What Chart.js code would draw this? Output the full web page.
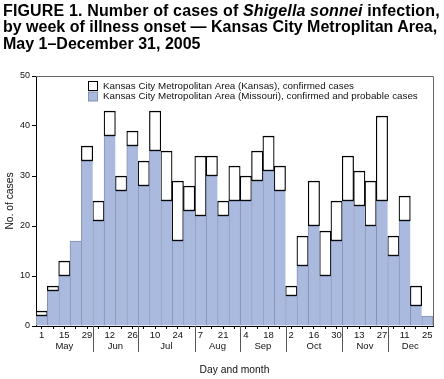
<!DOCTYPE html>
<html><head><meta charset="utf-8">
<script src="https://cdn.jsdelivr.net/npm/chart.js@4.4.0/dist/chart.umd.min.js"></script>
<style>
html,body{margin:0;padding:0;background:#fff;}
#wrap{position:relative;width:444px;height:379px;overflow:hidden;}
#title{position:absolute;left:3px;top:3px;font:bold 16px "Liberation Sans",Arial,Helvetica,sans-serif;line-height:16.4px;color:#000;white-space:nowrap;}
#title .l1{letter-spacing:0.15px;}
canvas{position:absolute;left:0;top:0;}
</style></head><body>
<div id="wrap"><canvas id="c" width="444" height="379"></canvas>
<div id="title"><span class="l1">FIGURE 1. Number of cases of <i>Shigella sonnei</i> infection,</span><br>by week of illness onset — Kansas City Metroplitan Area,<br>May 1–December 31, 2005</div></div>
<script>
// Week start days (May 1 – Dec 25, 2005)
const weekDays = ['1','8','15','22','29','5','12','19','26','3','10','17','24','31','7','14','21','28','4','11','18','25','2','9','16','23','30','6','13','20','27','4','11','18','25'];
const months = ['May','Jun','Jul','Aug','Sep','Oct','Nov','Dec'];
const monthStart = [0,5,9,14,18,22,27,31];
const missouri = [2,7,10,17,33,21,38,27,36,28,35,25,17,23,22,30,22,25,25,29,31,27,6,12,20,10,17,25,24,20,25,14,21,4,2];
const kansas   = [1,1,3,0,3,4,5,3,3,5,8,10,12,5,12,4,3,7,5,6,7,5,2,6,9,9,8,9,7,9,17,4,5,4,0];
const yTicks = [0,10,20,30,40,50];
const labelMissouri = 'Kansas City Metropolitan Area (Missouri), confirmed and probable cases';
const labelKansas = 'Kansas City Metropolitan Area (Kansas), confirmed cases';

const FONT = '"Liberation Sans", Arial, Helvetica, sans-serif';
Chart.defaults.font.family = FONT;
Chart.defaults.color = '#111';

const last = missouri.length - 1;

const extras = {
  id: 'extras',
  afterDraw(chart) {
    const ctx = chart.ctx;
    const a = chart.chartArea;
    const x = chart.scales.x;
    ctx.save();
    // frame top & right
    ctx.strokeStyle = '#666';
    ctx.lineWidth = 1;
    ctx.beginPath();
    ctx.moveTo(a.left, Math.round(a.top) + 0.5);
    ctx.lineTo(Math.round(a.right) + 0.5, Math.round(a.top) + 0.5);
    ctx.lineTo(Math.round(a.right) + 0.5, a.bottom);
    ctx.stroke();
    // months
    const w = x.getPixelForValue(1) - x.getPixelForValue(0);
    ctx.font = '9.5px ' + FONT;
    ctx.fillStyle = '#111';
    ctx.textAlign = 'center';
    ctx.textBaseline = 'middle';
    ctx.strokeStyle = '#555';
    for (let m = 0; m < months.length; m++) {
      const s = monthStart[m];
      const e = (m + 1 < months.length ? monthStart[m + 1] : weekDays.length) - 1;
      const l = x.getPixelForValue(s) - w / 2;
      const r = x.getPixelForValue(e) + w / 2;
      if (m > 0) {
        const px = Math.round(l) + 0.5;
        ctx.beginPath();
        ctx.moveTo(px, a.bottom);
        ctx.lineTo(px, a.bottom + 26);
        ctx.stroke();
      }
      ctx.fillText(months[m], (l + r) / 2, a.bottom + 20.5);
    }
    // legend
    const ds = chart.data.datasets.slice().reverse();
    ctx.font = '9.8px ' + FONT;
    ctx.textAlign = 'left';
    ds.forEach((d, i) => {
      const bx = a.left + 52.5, by = a.top + 5.5 + i * 10.5;
      ctx.fillStyle = d.legendFill;
      ctx.fillRect(bx, by, 9, 9);
      ctx.strokeStyle = d.legendStroke;
      ctx.lineWidth = 1;
      ctx.strokeRect(bx, by, 9, 9);
      ctx.fillStyle = '#111';
      ctx.fillText(d.label, a.left + 67, by + 4.5);
    });
    ctx.restore();
  }
};

new Chart(document.getElementById('c'), {
  type: 'bar',
  data: {
    labels: weekDays,
    datasets: [
      {
        label: labelMissouri,
        data: missouri,
        backgroundColor: '#aab9de',
        borderColor: '#8591b2',
        legendFill: '#aab9de', legendStroke: '#8591b2',
        borderSkipped: false,
        borderWidth: c => ({top: 1, left: 1, right: c.dataIndex === last ? 1 : 0, bottom: 0}),
        categoryPercentage: 1, barPercentage: 1
      },
      {
        label: labelKansas,
        data: kansas,
        backgroundColor: '#ffffff',
        borderColor: '#000000',
        legendFill: '#ffffff', legendStroke: '#000000',
        borderSkipped: false,
        borderWidth: c => (c.raw === 0 ? 0 : {top: 1.5, bottom: 1.5, left: 1.2, right: 1.2}),
        categoryPercentage: 1, barPercentage: 1
      }
    ]
  },
  options: {
    responsive: false,
    animation: false,
    layout: {padding: {top: 76, right: 11, left: 0, bottom: 0}},
    plugins: {legend: {display: false}, tooltip: {enabled: false}, title: {display: false}},
    scales: {
      x: {
        stacked: true,
        offset: true,
        grid: {offset: false, drawOnChartArea: false, tickLength: 3, color: '#000'},
        border: {color: '#000', width: 1},
        ticks: {
          autoSkip: false, maxRotation: 0, minRotation: 0, padding: 1,
          font: {size: 9.5}, color: '#111',
          callback: (v, i) => (i % 2 === 0 ? weekDays[i] : '')
        },
        title: {display: true, text: 'Day and month', font: {size: 10.3}, color: '#111', padding: {top: 0, bottom: 3}},
        afterFit: s => { s.height = 53; }
      },
      y: {
        stacked: true,
        min: 0, max: 50,
        afterBuildTicks: s => { s.ticks = yTicks.map(v => ({value: v})); },
        grid: {drawOnChartArea: false, tickLength: 4, color: '#000'},
        border: {color: '#000', width: 1},
        ticks: {padding: 2, font: {size: 9}, color: '#111'},
        title: {display: true, text: 'No. of cases', font: {size: 10.3}, color: '#111', padding: {top: 4, bottom: 0}},
        afterFit: s => { s.width = 36; }
      }
    }
  },
  plugins: [extras]
});
</script>
</body></html>
